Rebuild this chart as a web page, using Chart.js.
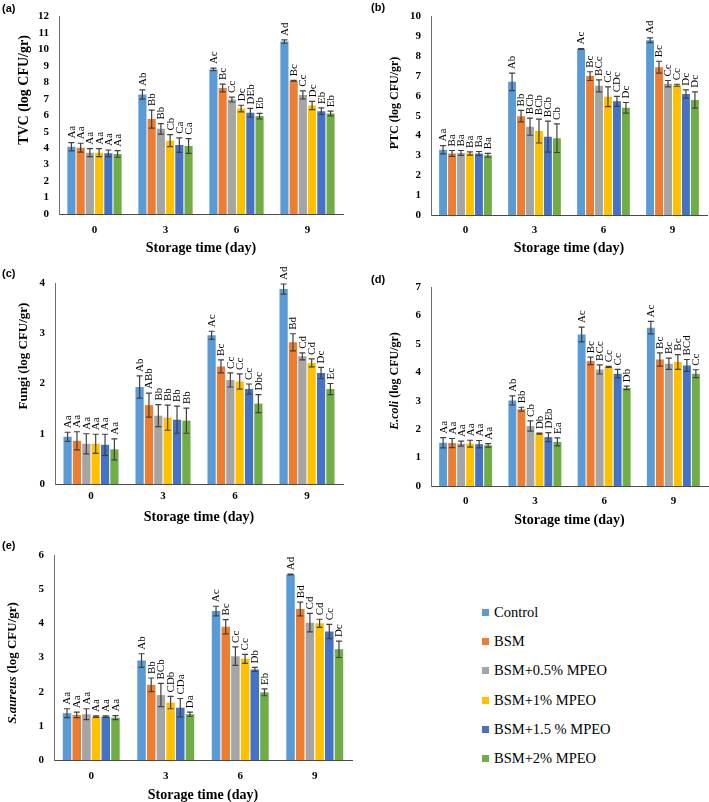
<!DOCTYPE html>
<html>
<head>
<meta charset="utf-8">
<script src="https://cdn.jsdelivr.net/npm/chart.js@4.4.1/dist/chart.umd.min.js"></script>
<style>
  body { margin: 0; background: #fff; }
  #page { position: relative; width: 709px; height: 802px; overflow: hidden; }
  .panel { position: absolute; }
  .tag { position: absolute; font-family: 'Liberation Sans', Arial, sans-serif; font-weight: bold; font-size: 11px; line-height: 13px; }
  .item { position: absolute; white-space: nowrap; font-family: 'Liberation Serif', 'Times New Roman', serif; font-size: 14.5px; line-height: 20px; }
  .box { position: absolute; width: 7px; height: 7px; left: 0; top: 7px; }
  .item span.text { position: absolute; left: 12px; top: 0; font-family: 'Liberation Serif', 'Times New Roman', serif; }
</style>
</head>
<body>
<div id="page"></div>
<script>
const days = ['0', '3', '6', '9'];
const treatments = ['Control', 'BSM', 'BSM+0.5% MPEO', 'BSM+1% MPEO', 'BSM+1.5 % MPEO', 'BSM+2% MPEO'];
const barColors = ['#5B9BD5', '#ED7D31', '#A5A5A5', '#FFC000', '#4472C4', '#70AD47'];

// (a) TVC - one row per treatment, one value per storage day
const tvcMeans = [
  [4.09, 7.26, 8.79, 10.48],
  [4.03, 5.77, 7.66, 8.10],
  [3.73, 5.18, 6.96, 7.24],
  [3.73, 4.46, 6.41, 6.60],
  [3.69, 4.19, 6.15, 6.25],
  [3.65, 4.13, 5.95, 6.11]
];
const tvcErrors = [
  [0.25, 0.28, 0.08, 0.10],
  [0.27, 0.55, 0.24, 0.03],
  [0.24, 0.32, 0.15, 0.25],
  [0.24, 0.37, 0.20, 0.25],
  [0.20, 0.44, 0.27, 0.20],
  [0.20, 0.45, 0.17, 0.14]
];
const tvcLetters = [
  ['Aa', 'Ab', 'Ac', 'Ad'],
  ['Aa', 'Bb', 'Bc', 'Bc'],
  ['Aa', 'Bb', 'Cc', 'Cc'],
  ['Aa', 'Cb', 'Dc', 'Dc'],
  ['Aa', 'Ca', 'DEb', 'Eb'],
  ['Aa', 'Ca', 'Eb', 'Eb']
];

// (b) PTC
const ptcMeans = [
  [3.29, 6.71, 8.37, 8.81],
  [3.10, 4.98, 7.00, 7.45],
  [3.13, 4.45, 6.51, 6.62],
  [3.10, 4.23, 5.96, 6.54],
  [3.10, 3.95, 5.73, 6.10],
  [3.01, 3.87, 5.40, 5.80]
];
const ptcErrors = [
  [0.21, 0.44, 0.02, 0.12],
  [0.15, 0.29, 0.22, 0.30],
  [0.12, 0.43, 0.30, 0.16],
  [0.08, 0.60, 0.50, 0.05],
  [0.10, 0.78, 0.25, 0.21],
  [0.10, 0.72, 0.27, 0.41]
];
const ptcLetters = [
  ['Aa', 'Ab', 'Ac', 'Ad'],
  ['Ba', 'Bb', 'Bc', 'Bc'],
  ['Ba', 'BCb', 'BCc', 'Cc'],
  ['Ba', 'BCb', 'Cc', 'Cc'],
  ['Ba', 'BCb', 'CDc', 'Dc'],
  ['Ba', 'Cb', 'Dc', 'Dc']
];

// (c) Fungi
const fungiMeans = [
  [0.94, 1.93, 2.96, 3.88],
  [0.86, 1.57, 2.34, 2.82],
  [0.80, 1.36, 2.07, 2.54],
  [0.80, 1.32, 2.04, 2.41],
  [0.78, 1.28, 1.89, 2.21],
  [0.69, 1.26, 1.60, 1.89]
];
const fungiErrors = [
  [0.09, 0.22, 0.08, 0.10],
  [0.18, 0.24, 0.13, 0.17],
  [0.20, 0.22, 0.14, 0.07],
  [0.19, 0.25, 0.15, 0.08],
  [0.21, 0.27, 0.10, 0.11],
  [0.21, 0.25, 0.18, 0.11]
];
const fungiLetters = [
  ['Aa', 'Ab', 'Ac', 'Ad'],
  ['Aa', 'ABb', 'Bc', 'Bd'],
  ['Aa', 'Bb', 'Cc', 'Cd'],
  ['Aa', 'Bb', 'Cc', 'Cd'],
  ['Aa', 'Bb', 'Cc', 'Dc'],
  ['Aa', 'Bb', 'Dbc', 'Ec']
];

// (d) E.coli
const ecoliMeans = [
  [1.52, 3.01, 5.33, 5.57],
  [1.51, 2.70, 4.40, 4.45],
  [1.49, 2.11, 4.10, 4.30],
  [1.49, 1.84, 4.19, 4.36],
  [1.47, 1.72, 3.95, 4.24],
  [1.43, 1.55, 3.45, 3.95]
];
const ecoliErrors = [
  [0.18, 0.16, 0.26, 0.22],
  [0.16, 0.07, 0.13, 0.23],
  [0.09, 0.18, 0.16, 0.20],
  [0.12, 0.02, 0.02, 0.26],
  [0.13, 0.16, 0.15, 0.21],
  [0.06, 0.14, 0.06, 0.14]
];
const ecoliLetters = [
  ['Aa', 'Ab', 'Ac', 'Ac'],
  ['Aa', 'Bb', 'Bc', 'Bc'],
  ['Aa', 'Cb', 'BCc', 'Bc'],
  ['Aa', 'Db', 'Cc', 'Bc'],
  ['Aa', 'DEb', 'Cc', 'BCd'],
  ['Aa', 'Ea', 'Db', 'Cc']
];

// (e) S.aureus
const saureusMeans = [
  [1.37, 2.91, 4.36, 5.43],
  [1.32, 2.20, 3.90, 4.42],
  [1.34, 1.90, 3.04, 4.02],
  [1.27, 1.68, 2.96, 4.00],
  [1.27, 1.53, 2.65, 3.76],
  [1.24, 1.34, 1.98, 3.24]
];
const saureusErrors = [
  [0.13, 0.20, 0.14, 0.01],
  [0.08, 0.20, 0.21, 0.20],
  [0.16, 0.34, 0.27, 0.27],
  [0.02, 0.18, 0.13, 0.12],
  [0.02, 0.27, 0.06, 0.21],
  [0.06, 0.06, 0.10, 0.24]
];
const saureusLetters = [
  ['Aa', 'Ab', 'Ac', 'Ad'],
  ['Aa', 'Bb', 'Bc', 'Bd'],
  ['Aa', 'BCb', 'Cc', 'Cd'],
  ['Aa', 'CDb', 'Cc', 'Cd'],
  ['Aa', 'CDa', 'Db', 'Cc'],
  ['Aa', 'Da', 'Eb', 'Dc']
];

const serif = "'Liberation Serif', 'Times New Roman', serif";
const page = document.getElementById('page');

// error bars + letter labels on top of every bar
const errorBars = {
  id: 'errorBars',
  afterDatasetsDraw(chart) {
    const { ctx, scales: { y } } = chart;
    ctx.save();
    chart.data.datasets.forEach((ds, i) => {
      const meta = chart.getDatasetMeta(i);
      meta.data.forEach((bar, j) => {
        const v = ds.data[j];
        const e = ds.errors[j];
        const top = y.getPixelForValue(v + e);
        const bottom = y.getPixelForValue(v - e);

        ctx.strokeStyle = '#404040';
        ctx.lineWidth = 1.2;
        ctx.beginPath();
        ctx.moveTo(bar.x, top);
        ctx.lineTo(bar.x, bottom);
        ctx.moveTo(bar.x - 3, top);
        ctx.lineTo(bar.x + 3, top);
        ctx.moveTo(bar.x - 3, bottom);
        ctx.lineTo(bar.x + 3, bottom);
        ctx.stroke();

        ctx.save();
        ctx.translate(bar.x + 0.5, top - 4);
        ctx.rotate(-Math.PI / 2);
        ctx.font = '11px ' + serif;
        ctx.fillStyle = '#000';
        ctx.textAlign = 'left';
        ctx.textBaseline = 'middle';
        ctx.fillText(ds.letters[j], 0, 0);
        ctx.restore();
      });
    });
    ctx.restore();
  }
};

// y title, allows an italic part (E.coli, S.aureus)
const yTitle = {
  id: 'yTitle',
  afterDraw(chart, args, opts) {
    const { ctx } = chart;
    const fonts = opts.parts.map(p => (p.italic ? 'italic ' : '') + 'bold ' + opts.size + 'px ' + serif);
    ctx.save();
    ctx.translate(opts.x, opts.y);
    ctx.rotate(-Math.PI / 2);
    ctx.fillStyle = '#000';
    ctx.textAlign = 'left';
    ctx.textBaseline = 'middle';
    let total = 0;
    opts.parts.forEach((p, k) => {
      ctx.font = fonts[k];
      total += ctx.measureText(p.text).width;
    });
    let x = -total / 2;
    opts.parts.forEach((p, k) => {
      ctx.font = fonts[k];
      ctx.fillText(p.text, x, 0);
      x += ctx.measureText(p.text).width;
    });
    ctx.restore();
  }
};

function makePanel(p) {
  const holder = document.createElement('div');
  holder.className = 'panel';
  holder.style.left = p.left + 'px';
  holder.style.top = p.top + 'px';
  const canvas = document.createElement('canvas');
  canvas.width = p.w;
  canvas.height = p.h;
  canvas.style.width = p.w + 'px';
  canvas.style.height = p.h + 'px';
  holder.appendChild(canvas);
  page.appendChild(holder);

  const tag = document.createElement('div');
  tag.className = 'tag';
  tag.textContent = p.tag;
  tag.style.left = p.tagX + 'px';
  tag.style.top = p.tagY + 'px';
  page.appendChild(tag);

  const data = {
    labels: days,
    datasets: treatments.map((name, i) => ({
      label: name,
      data: p.means[i],
      errors: p.errors[i],
      letters: p.letters[i],
      backgroundColor: barColors[i],
      barPercentage: 0.88,
      categoryPercentage: 0.78
    }))
  };

  const config = {
    type: 'bar',
    data,
    options: {
      responsive: false,
      animation: false,
      devicePixelRatio: 1,
      layout: { padding: { top: p.area.t, right: p.w - p.area.r, bottom: 0, left: 0 } },
      plugins: {
        legend: { display: false },
        tooltip: { enabled: false },
        yTitle: { parts: p.yTitle, x: p.yTitleX, y: p.yTitleY, size: p.yTitleSize }
      },
      scales: {
        x: {
          grid: { display: false, drawTicks: false },
          border: { display: true, color: '#4a4a4a', width: 1 },
          ticks: { color: '#000', padding: p.tickPad, font: { family: serif, size: 11, weight: 'bold' } },
          title: {
            display: true,
            text: 'Storage time (day)',
            color: '#000',
            font: { family: serif, size: 14, weight: 'bold', lineHeight: 1 },
            padding: { top: 0, bottom: p.titlePad }
          },
          afterFit: s => { s.height = p.h - p.area.b; }
        },
        y: {
          min: 0,
          max: p.max,
          grid: { display: false, drawTicks: false },
          border: { display: true, color: '#6e6e6e', width: 1 },
          ticks: { stepSize: 1, color: '#000', padding: 10, font: { family: serif, size: 11, weight: 'bold' } },
          afterFit: s => { s.width = p.area.l; }
        }
      }
    },
    plugins: [errorBars, yTitle]
  };

  new Chart(canvas, config);
}

makePanel({
  tag: '(a)', tagX: 2, tagY: 2, left: 0, top: 0, w: 354, h: 265,
  area: { l: 59, t: 13, r: 343, b: 214 }, max: 12, tickPad: 9.4, titlePad: 10,
  means: tvcMeans, errors: tvcErrors, letters: tvcLetters,
  yTitle: [{ text: 'TVC (log CFU/gr)' }], yTitleX: 24, yTitleY: 90, yTitleSize: 14
});

makePanel({
  tag: '(b)', tagX: 371, tagY: 1, left: 354, top: 0, w: 355, h: 265,
  area: { l: 77, t: 13, r: 353, b: 215 }, max: 10, tickPad: 8.4, titlePad: 10,
  means: ptcMeans, errors: ptcErrors, letters: ptcLetters,
  yTitle: [{ text: 'PTC (log CFU/gr)' }], yTitleX: 41, yTitleY: 103, yTitleSize: 12
});

makePanel({
  tag: '(c)', tagX: 2, tagY: 267, left: 0, top: 265, w: 354, h: 265,
  area: { l: 55, t: 18, r: 343, b: 219 }, max: 4, tickPad: 5.4, titlePad: 6,
  means: fungiMeans, errors: fungiErrors, letters: fungiLetters,
  yTitle: [{ text: 'Fungi (log CFU/gr)' }], yTitleX: 24, yTitleY: 91, yTitleSize: 13
});

makePanel({
  tag: '(d)', tagX: 371, tagY: 273, left: 354, top: 265, w: 355, h: 265,
  area: { l: 77, t: 22, r: 354, b: 221 }, max: 7, tickPad: 8.4, titlePad: 3,
  means: ecoliMeans, errors: ecoliErrors, letters: ecoliLetters,
  yTitle: [{ text: 'E.coli', italic: true }, { text: ' (log CFU/gr)' }], yTitleX: 41, yTitleY: 116, yTitleSize: 12
});

makePanel({
  tag: '(e)', tagX: 2, tagY: 539, left: 0, top: 530, w: 354, h: 272,
  area: { l: 54, t: 25, r: 352, b: 230 }, max: 6, tickPad: 9.4, titlePad: 0,
  means: saureusMeans, errors: saureusErrors, letters: saureusLetters,
  yTitle: [{ text: 'S.aureus', italic: true }, { text: ' (log CFU/gr)' }], yTitleX: 13, yTitleY: 133, yTitleSize: 13
});

// legend, built from the treatment list
treatments.forEach((name, i) => {
  const item = document.createElement('div');
  item.className = 'item';
  item.style.left = '482px';
  item.style.top = (602 + i * 29.2) + 'px';
  item.innerHTML = `<div class="box" style="background:${barColors[i]}"></div><span class="text"></span>`;
  item.querySelector('.text').textContent = name;
  page.appendChild(item);
});
</script>
</body>
</html>
